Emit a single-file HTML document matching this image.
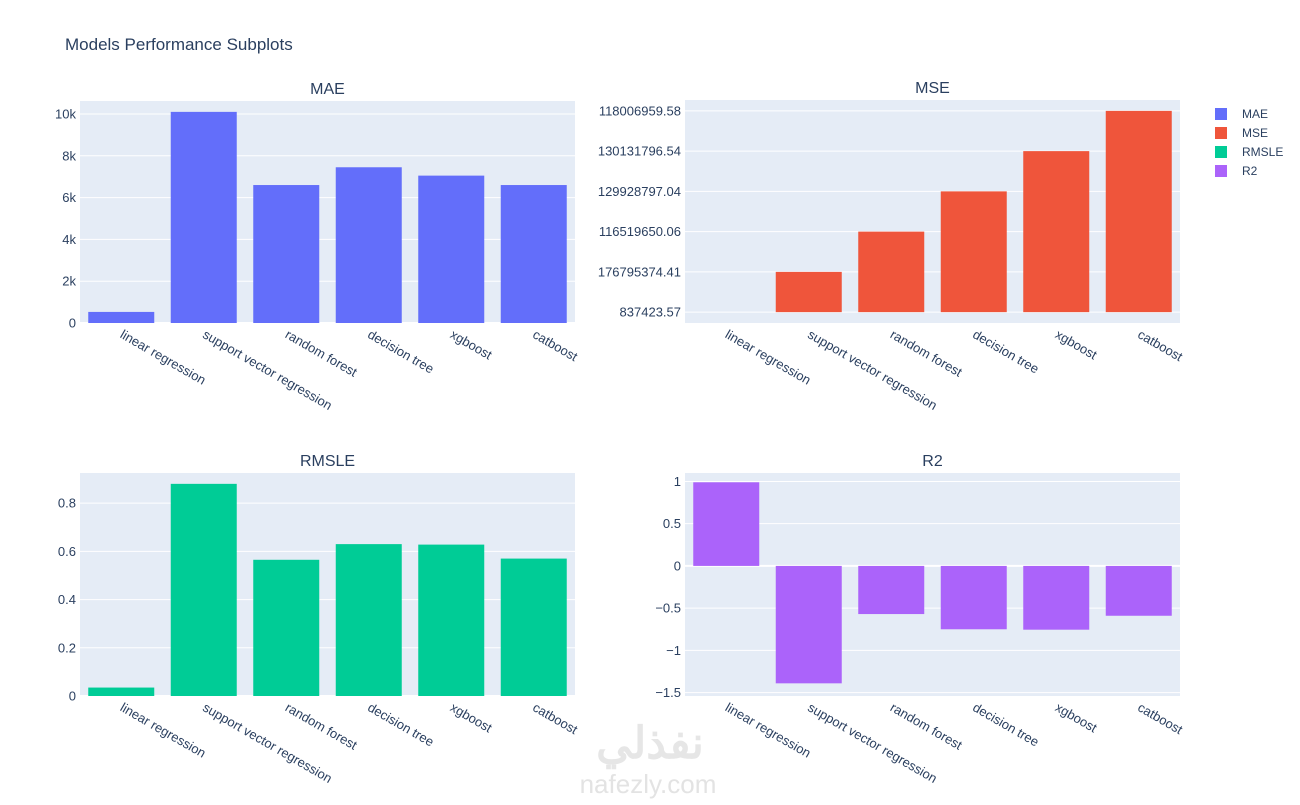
<!DOCTYPE html>
<html><head><meta charset="utf-8"><style>
body{margin:0;background:#fff;width:1300px;height:800px;overflow:hidden}
svg text{font-family:"Liberation Sans","Noto Sans CJK SC",sans-serif;fill:#2a3f5f}
</style></head><body>
<svg id="chart" width="1300" height="800" xmlns="http://www.w3.org/2000/svg">
<text x="65" y="50" font-size="17">Models Performance Subplots</text>
<text x="650" y="758" font-size="44" text-anchor="middle" style="fill:#e6e6e6;font-family:'Noto Sans CJK SC',sans-serif;font-weight:bold">نفذلي</text>
<text x="648" y="793" font-size="26" text-anchor="middle" style="fill:#e3e3e3">nafezly.com</text>
</svg>
<script>
const categories=["linear regression","support vector regression","random forest","decision tree","xgboost","catboost"];
const maeValues=[530,10100,6600,7450,7050,6600];
const maeTicks=[0,2000,4000,6000,8000,10000];
const maeTickLabels=["0","2k","4k","6k","8k","10k"];
const mseLabels=["837423.57","176795374.41","116519650.06","129928797.04","130131796.54","118006959.58"];
const mseValues=["837423.57","176795374.41","116519650.06","129928797.04","130131796.54","118006959.58"];
const rmsleValues=[0.035,0.88,0.565,0.63,0.628,0.57];
const rmsleTicks=[0,0.2,0.4,0.6,0.8];
const r2Values=[0.99,-1.39,-0.57,-0.75,-0.755,-0.59];
const r2Ticks=[-1.5,-1,-0.5,0,0.5,1];
const r2TickLabels=["−1.5","−1","−0.5","0","0.5","1"];
const legendNames=["MAE","MSE","RMSLE","R2"];
const colors=["#636efa","#ef553b","#00cc96","#ab63fa"];

const svg=document.getElementById('chart');
const NS='http://www.w3.org/2000/svg';
function mk(tag,attrs,parent){const e=document.createElementNS(NS,tag);for(const k in attrs)e.setAttribute(k,attrs[k]);(parent||svg).appendChild(e);return e;}

function panel(name,x0,x1,y0,y1,dmin,dmax,ticks,tickLabels,vals,color,title){
  const g=mk('g',{});
  
  
  const bg=mk('rect',{x:x0,y:y0,width:x1-x0,height:y1-y0,fill:'#e5ecf6'},g);
  
  
  const ys=v=>y1-(v-dmin)/(dmax-dmin)*(y1-y0);
  ticks.forEach((t,i)=>{
    const y=ys(t);
    const l=mk('line',{x1:x0,x2:x1,y1:y,y2:y,stroke:'#fff','stroke-width':t===0&&name!=='mse'?2:1},g);
    
    
    const tx=mk('text',{x:x0-4,y:y+4.5,'font-size':13,'text-anchor':'end'},g);
    tx.textContent=tickLabels[i];
    
    
  });
  const bw=(x1-x0)/categories.length;
  vals.forEach((v,i)=>{
    const cx=x0+bw*(i+0.5);
    const ya=ys(v),yb=ys(0);
    const r=mk('rect',{x:cx-bw*0.4,y:Math.min(ya,yb),width:bw*0.8,height:Math.abs(yb-ya),fill:color},g);
    
    
    const tx=mk('text',{x:cx-2,y:y1+14,'font-size':13,transform:`rotate(30 ${cx-2} ${y1+14})`},g);
    tx.textContent=categories[i];
    
    
  });
  const tt=mk('text',{x:(x0+x1)/2,y:y0-7,'font-size':16,'text-anchor':'middle'},g);
  tt.textContent=title;
  
  
}
panel('mae',80,575,101,323,0,10620,maeTicks,maeTickLabels,maeValues,colors[0],'MAE');
const mseIdx=mseValues.map(v=>mseLabels.indexOf(v));
panel('mse',685,1180,100,323,-0.27,5.27,mseLabels.map((_,i)=>i),mseLabels,mseIdx,colors[1],'MSE');
panel('rmsle',80,575,473,696,0,0.925,rmsleTicks,rmsleTicks.map(String),rmsleValues,colors[2],'RMSLE');
panel('r2',685,1180,473,696,-1.54,1.1,r2Ticks,r2TickLabels,r2Values,colors[3],'R2');

legendNames.forEach((n,i)=>{
  const y=114+i*19;
  const g=mk('g',{});
  
  
  mk('rect',{x:1215,y:y-6,width:12,height:12,fill:colors[i]},g);
  const t=mk('text',{x:1242,y:y+4,'font-size':12},g);
  t.textContent=n;
});
</script>
</body></html>
